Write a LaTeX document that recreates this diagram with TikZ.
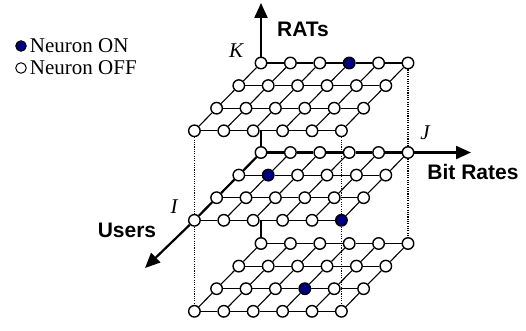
\documentclass[tikz,border=0pt]{standalone}
\usepackage{fontspec}
\setmainfont{Liberation Serif}
\setsansfont{Liberation Sans}
\usetikzlibrary{arrows.meta, positioning}
\definecolor{onblue}{RGB}{0,0,128}
\tikzset{>={Triangle[length=15pt,width=13pt]},
neuron/.style={circle,draw,fill=white,line width=1.4pt,minimum size=11.5pt,inner sep=0pt},
lit/.style={fill=onblue},
t-0-3/.style=lit, m-1-1/.style=lit, m-3-5/.style=lit, b-2-3/.style=lit,
link/.style={line width=1.1pt},
toprow/.style={line width=1.9pt},
axis/.style={line width=2.2pt},
guide/.style={line width=1.3pt,dash pattern=on 1.1pt off 1.2pt},
lbl/.style={font=\fontsize{21}{24}\selectfont\sffamily\bfseries,inner sep=0pt},
idx/.style={font=\fontsize{21}{24}\selectfont\itshape,inner sep=0pt},
legend/.style={font=\fontsize{21}{24}\selectfont,inner sep=0pt}}

\begin{document}
\begin{tikzpicture}[x=1pt,y=-1pt]
\useasboundingbox (0,0) rectangle (526,331);

\foreach \lay/\yo in {t/63,m/152.5,b/243.5}
  \foreach \i in {0,...,3}
    \foreach \j in {0,...,5}
      \node[neuron,\lay-\i-\j/.try] (\lay-\i-\j) at (261+29.4*\j-22.2*\i,\yo+22.6*\i) {};

\draw[guide] (t-3-0) -- (m-3-0) -- (b-3-0);
\draw[guide] (t-3-5) -- (m-3-5) -- (b-3-5);
\draw[guide] (t-0-5) -- (m-0-5) -- (b-0-5);

\foreach \lay in {t,m,b}{
  \foreach \i in {0,...,3}
    \foreach \j [count=\k] in {0,...,4}
      \draw[link] (\lay-\i-\j) -- (\lay-\i-\k);
  \foreach \i [count=\k] in {0,...,2}
    \foreach \j in {0,...,5}
      \draw[link] (\lay-\i-\j) -- (\lay-\k-\j);
}

\foreach \j [count=\k] in {0,...,4}{
  \draw[toprow] (t-0-\j) -- (t-0-\k);
  \draw[axis] (m-0-\j) -- (m-0-\k);
}
\foreach \i [count=\k] in {0,...,2}
  \draw[axis] (m-\i-0) -- (m-\k-0);

\coordinate (ktip) at (261,3);
\coordinate (jtip) at (471,152.5);
\coordinate (itip) at (145,268);
\draw[axis,->] (t-0-0) -- (ktip);
\draw[axis,->] (m-0-5) -- (jtip);
\draw[axis,->] (m-3-0) -- (itip);
\draw[axis] (m-0-0) -- (m-0-0 |- t-3-0);
\draw[axis] (b-0-0) -- (b-0-0 |- m-3-0);

\node[idx] (klabel) at (236,51) {K};
\node[lbl] (rats) at (303,29) {RATs};
\node[idx] (jlabel) at (425,133) {J};
\node[lbl] (bitrates) at (473,172) {Bit Rates};
\node[idx] (ilabel) at (174,207) {I};
\node[lbl] (users) at (127,230) {Users};

\node[neuron,lit,line width=1pt,minimum size=10.5pt] (ondot) at (21,46) {};
\node[neuron,line width=1pt,minimum size=10.5pt] (offdot) at (21,68) {};
\node[legend,right=3pt of ondot] (ontext) {Neuron ON};
\node[legend,right=3pt of offdot] (offtext) {Neuron OFF};
\end{tikzpicture}
\end{document}
